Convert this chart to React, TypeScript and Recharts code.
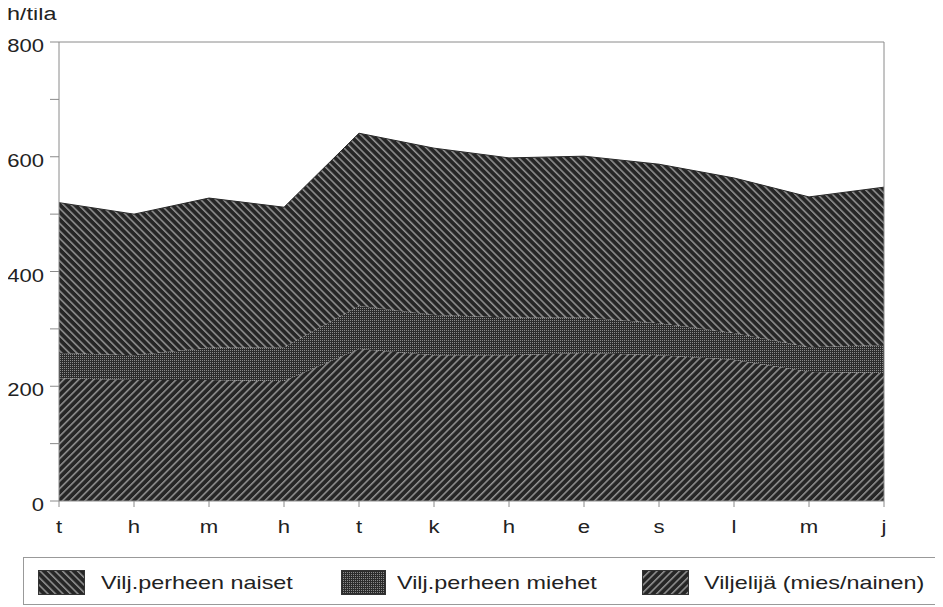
import { AreaChart, Area, XAxis, YAxis, ReferenceLine } from 'recharts'

// kuukaudet (tammikuu ... joulukuu), akselilla alkukirjaimet
const months = ['t', 'h', 'm', 'h', 't', 'k', 'h', 'e', 's', 'l', 'm', 'j']
const viljelija = [214, 211, 211, 209, 265, 254, 254, 258, 254, 246, 225, 223]
const miehet = [44, 43, 56, 59, 75, 70, 66, 62, 56, 47, 43, 49]
const naiset = [262, 246, 261, 244, 301, 291, 278, 281, 277, 270, 262, 275]
const yTicks = [0, 100, 200, 300, 400, 500, 600, 700, 800]

const data = months.map((m, i) => ({
  i,
  viljelija: viljelija[i],
  miehet: miehet[i],
  naiset: naiset[i],
}))

const font = '"Liberation Sans", Arial, Helvetica, sans-serif'
const axisColor = '#8a8a8a'
const stretch = 1.23

function Patterns() {
  return (
    <defs>
      <pattern id="pNaiset" patternUnits="userSpaceOnUse" width="5.3" height="5.3" patternTransform="rotate(-45)">
        <rect width="5.3" height="5.3" fill="#262626" />
        <rect width="1.5" height="5.3" fill="#949494" />
      </pattern>
      <pattern id="pViljelija" patternUnits="userSpaceOnUse" width="5.3" height="5.3" patternTransform="rotate(45)">
        <rect width="5.3" height="5.3" fill="#262626" />
        <rect width="1.5" height="5.3" fill="#949494" />
      </pattern>
      <pattern id="pMiehet" patternUnits="userSpaceOnUse" width="2" height="2">
        <rect width="2" height="2" fill="#2c2c2c" />
        <rect width="1" height="1" fill="#8a8a8a" />
      </pattern>
    </defs>
  )
}

// venytetyt akselitekstit (alkuperäinen fontti on leveämpi)
function XTick(props: any) {
  const { x, y, payload } = props
  return (
    <text transform={`translate(${x},${y + 20}) scale(${stretch},1)`} textAnchor="middle" fill="#222" fontSize={18} fontFamily={font}>
      {months[payload.value]}
    </text>
  )
}

function YTick(props: any) {
  const { x, y, payload } = props
  if (payload.value % 200 !== 0) return <g />
  return (
    <text transform={`translate(${x},${y + 10}) scale(1.16,1)`} textAnchor="end" fill="#222" fontSize={19} fontFamily={font}>
      {payload.value}
    </text>
  )
}

function Swatch({ id, w }: { id: string; w: number }) {
  return (
    <svg width={w} height={25} style={{ display: 'block' }}>
      <Patterns />
      <rect x={0.5} y={0.5} width={w - 1} height={24} fill={`url(#${id})`} stroke="#333" />
    </svg>
  )
}

function Stretched({ children, size, k = stretch }: { children: string; size: number; k?: number }) {
  return (
    <span
      style={{
        display: 'inline-block',
        fontSize: size,
        lineHeight: '25px',
        whiteSpace: 'nowrap',
        transform: `scaleX(${k})`,
        transformOrigin: 'left center',
      }}
    >
      {children}
    </span>
  )
}

const legendItems = [
  { id: 'pNaiset', label: 'Vilj.perheen naiset', x: 38, w: 47, tx: 101 },
  { id: 'pMiehet', label: 'Vilj.perheen miehet', x: 341, w: 45, tx: 397 },
  { id: 'pViljelija', label: 'Viljelijä (mies/nainen)', x: 642, w: 47, tx: 704 },
]

export default function App() {
  return (
    <div style={{ position: 'relative', margin: '-8px 0 0 -8px', width: 943, height: 607, fontFamily: font, color: '#222' }}>
      <div style={{ position: 'absolute', left: 7, top: 2 }}>
        <Stretched size={18} k={1.3}>h/tila</Stretched>
      </div>
      <AreaChart
        width={943}
        height={553}
        data={data}
        margin={{ top: 42, right: 59, bottom: 22, left: 0 }}
      >
        <Patterns />
        <XAxis
          dataKey="i"
          type="category"
          stroke={axisColor}
          tick={<XTick />}
          tickSize={6}
          tickMargin={6}
          interval={0}
          height={30}
        />
        <YAxis
          domain={[0, 800]}
          ticks={yTicks}
          width={59}
          stroke={axisColor}
          tickSize={9}
          tickMargin={6}
          tick={<YTick />}
          interval={0}
        />
        <Area type="linear" dataKey="viljelija" stackId="a" fill="url(#pViljelija)" fillOpacity={1} stroke="none" isAnimationActive={false} />
        <Area type="linear" dataKey="miehet" stackId="a" fill="url(#pMiehet)" fillOpacity={1} stroke="none" isAnimationActive={false} />
        <Area type="linear" dataKey="naiset" stackId="a" fill="url(#pNaiset)" fillOpacity={1} stroke="#262626" strokeWidth={1} isAnimationActive={false} />
        <ReferenceLine y={800} stroke={axisColor} />
        <ReferenceLine x={11} stroke={axisColor} />
      </AreaChart>
      <div
        style={{
          position: 'absolute',
          left: 23,
          top: 557,
          width: 914,
          height: 48,
          border: '1px solid #999',
          boxSizing: 'border-box',
        }}
      />
      {legendItems.map((it) => (
        <div key={it.id}>
          <div style={{ position: 'absolute', left: it.x, top: 570 }}>
            <Swatch id={it.id} w={it.w} />
          </div>
          <div style={{ position: 'absolute', left: it.tx, top: 570 }}>
            <Stretched size={19}>{it.label}</Stretched>
          </div>
        </div>
      ))}
    </div>
  )
}
